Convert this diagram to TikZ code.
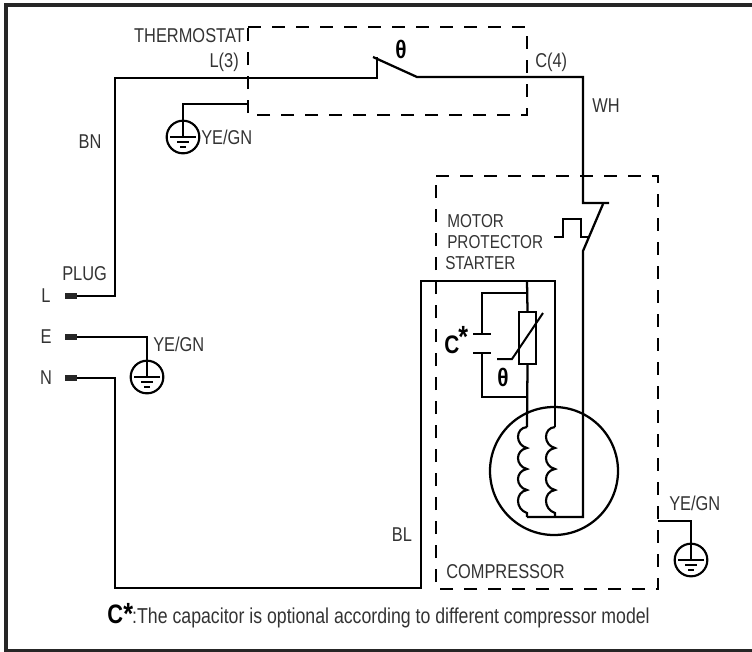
\documentclass[tikz,border=0pt]{standalone}
\usepackage{fontspec}
\setmainfont[FakeStretch=0.82]{Liberation Sans}
\usetikzlibrary{positioning}
\definecolor{labelgray}{rgb}{0.2,0.2,0.2}
\tikzset{
  wire/.style={line width=1.7pt,line join=miter},
  dashbox/.style={line width=1.6pt,dash pattern=on 10pt off 8pt},
  earthring/.style={circle,draw,line width=1.6pt,minimum size=24.5pt,inner sep=0pt},
  terminal/.style={fill=black!85,minimum width=9pt,minimum height=5.2pt,inner sep=0pt},
  lbl/.style={text=labelgray,font=\fontsize{15}{17}\selectfont,inner sep=0pt},
  motorlbl/.style={text=labelgray,font=\fontsize{14}{16}\selectfont,inner sep=0pt},
  notelbl/.style={text=labelgray,font=\fontsize{16.2}{18}\selectfont,inner sep=0pt},
  sym/.style={text=black,font=\fontsize{19}{21}\selectfont\bfseries,inner sep=0pt},
  starsym/.style={text=black,font=\fontsize{23}{25}\selectfont\bfseries,inner sep=0pt}
}
\begin{document}
\begin{tikzpicture}[x=0.75pt,y=0.75pt,yscale=-1]
\useasboundingbox (0,0) rectangle (752,651);

%Frame
\draw [line width=3pt,black!85] (752,5) -- (5.5,5) -- (5.5,650.5) -- (752,650.5);

%Dashed boxes
\draw [dashbox] (248,27) -- (527,27) -- (527,115) -- (248,115) -- cycle;
\draw [dashbox] (436,176) -- (658,176) -- (658,589) -- (436,589) -- cycle;

%Plug terminals
\node [terminal] (termL) at (71,296) {};
\node [terminal] (termE) at (71,337) {};
\node [terminal] (termN) at (71,378) {};

%Earth symbols
\node [earthring] (earthA) at (183,137) {};
\node [earthring] (earthB) at (147,377) {};
\node [earthring] (earthC) at (691,560) {};
\foreach \e in {earthA,earthB,earthC}{
  \draw [line width=1.5pt] ([xshift=-9.5]\e.center) -- ([xshift=9.5]\e.center);
  \draw [line width=1.5pt] ([shift={(-6,5)}]\e.center) -- ([shift={(6,5)}]\e.center);
  \draw [line width=1.5pt] ([shift={(-3,10)}]\e.center) -- ([shift={(3,10)}]\e.center);
  \draw [line width=1.5pt] (\e.north) -- (\e.center);
}

%Live wire and thermostat contact
\coordinate (swA) at (377,78);
\coordinate (swB) at (417,77);
\coordinate (opA) at (583,203);
\coordinate (opB) at (583,251);
\coordinate (opC) at (583,517);
\draw [wire] (termL) -| (115,78) -- (swA) -- (377,57);
\draw [wire] (373,57) -- (swB) -- (583,77) -- (opA) -- (609,203);
\draw [wire] (603,204) -- (opB) -- (opC) -- (527,517);

%Earth wires
\draw [wire] (248,104) -| (earthA.north);
\draw [wire] (termE) -| (earthB.north);
\draw [wire] (658,521) -| (earthC.north);

%Neutral wire
\draw [wire] (termN) -| (115,588) -| (421,281) -- (555,281) -- (555,427);

%Motor protector
\draw [wire] (554,237) -- (563,237) -- (563,219) -- (581,219) -- (581,237) -- (589,237);

%Start branch with PTC
\node [draw,line width=1.7pt,minimum width=12.5pt,minimum height=39pt,inner sep=0pt] (ptc) at (527.5,338) {};
\draw [wire] (527,281) -- (ptc.north);
\draw [wire] (ptc.south) -- (527,427);
\draw [line width=1.5pt] (497,359) -- (512,359) -- (543,313);

%Capacitor
\draw [wire] (527,293) -- (482,293) -- (482,334);
\draw [wire] (473,334) -- (491,334);
\draw [wire] (473,353) -- (491,353);
\draw [wire] (482,353) -- (482,397) -- (527,397);

%Motor windings
\node [circle,draw,line width=1.7pt,minimum size=96pt,inner sep=0pt] (motor) at (554,471) {};
\foreach \cx in {527,555}{
  \draw [wire,line width=1.6pt] (\cx,427) .. controls (\cx-12,428) and (\cx-12,445) .. (\cx,448)
     .. controls (\cx-12,450) and (\cx-12,466) .. (\cx,469)
     .. controls (\cx-12,471) and (\cx-12,487) .. (\cx,490)
     .. controls (\cx-12,492) and (\cx-12,509) .. (\cx,513) -- (\cx,517);
}

% Text Node
\node [lbl,anchor=east] (thermo) at (245,36) {THERMOSTAT};
\node [lbl,anchor=east] (lthree) at (239,62) {L(3)};
\node [lbl,anchor=west] (cfour) at (535,62) {C(4)};
\node [lbl] (wh) at (606,106) {WH};
\node [lbl] (bn) at (90,142) {BN};
\node [lbl,anchor=west] (yeA) at (201,137) {YE/GN};
\node [lbl,anchor=west] (plug) at (62,274) {PLUG};
\node [lbl] (ll) at (46,296) {L};
\node [lbl] (le) at (46,337) {E};
\node [lbl] (ln) at (46,378) {N};
\node [lbl,anchor=west] (yeB) at (153,344) {YE/GN};
\node [motorlbl,anchor=west] (motorA) at (447,221) {MOTOR};
\node [motorlbl,anchor=west] (motorB) at (447,242) {PROTECTOR};
\node [motorlbl,anchor=west] (motorC) at (445,263) {STARTER};
\node [lbl] (bl) at (402,535) {BL};
\node [lbl,anchor=west] (compr) at (446,572) {COMPRESSOR};
\node [lbl,anchor=west] (yeC) at (669,503) {YE/GN};
\node [sym] (thetaA) at (401,49) {θ};
\node [sym] (thetaB) at (503,377) {θ};
\node [sym,anchor=base west] (capC) at (444,353) {C};
\node [starsym,anchor=base west] (capS) at (458,347) {*};
\node [sym,anchor=base west,font=\fontsize{20}{22}\selectfont\bfseries] (noteC) at (107,623) {C};
\node [starsym,anchor=base west] (noteS) at (123,624) {*};
\node [notelbl,anchor=base east] (notetext) at (650,623) {:The capacitor is optional according to different compressor model};
\end{tikzpicture}
\end{document}
